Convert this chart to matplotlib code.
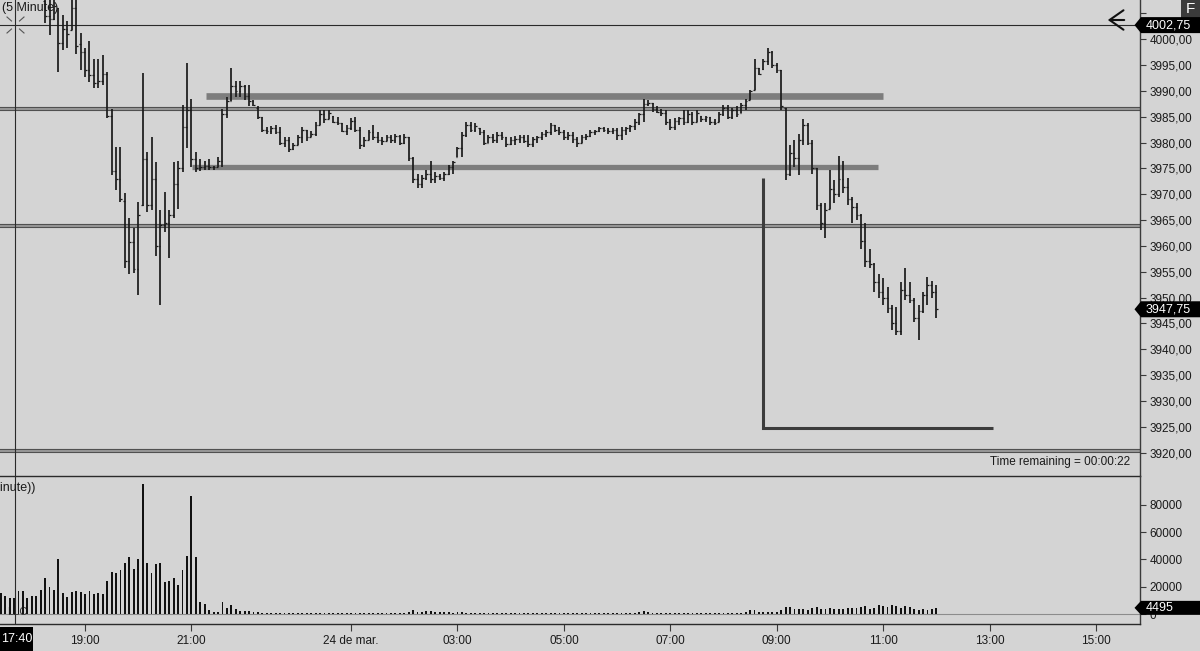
import numpy as np
import matplotlib
matplotlib.use('Agg')
import matplotlib.pyplot as plt
from matplotlib.patches import Polygon, Rectangle, FancyArrowPatch
from matplotlib.lines import Line2D
from matplotlib.transforms import IdentityTransform, offset_copy

# ---------------- data ----------------
first_price_bar = 7
opens = [
    4007.50, 4004.50, 4004.00, 4006.00, 3999.25, 4002.00, 4001.75, 4006.00, 3999.00, 3997.50,
    3994.00, 3993.00, 3991.50, 3992.00, 3993.25, 3985.25, 3974.50, 3973.00, 3968.75, 3957.00,
    3960.75, 3955.50, 3968.00, 3976.75, 3968.00, 3973.00, 3960.00, 3964.00, 3964.50, 3966.00,
    3972.00, 3975.00, 3983.00, 3986.25, 3976.75, 3975.00, 3975.25, 3975.50, 3975.25, 3975.25,
    3976.50, 3985.50, 3988.00, 3991.00, 3990.00, 3991.00, 3989.00, 3988.00, 3986.75, 3985.00,
    3982.50, 3982.25, 3982.75, 3982.00, 3980.00, 3980.50, 3978.75, 3979.50, 3981.00, 3982.50,
    3981.00, 3981.75, 3983.50, 3985.50, 3984.50, 3985.25, 3984.00, 3983.75, 3982.25, 3982.75,
    3984.25, 3982.50, 3979.50, 3980.50, 3982.00, 3981.00, 3980.50, 3980.25, 3981.00, 3980.50,
    3981.25, 3980.00, 3981.00, 3977.00, 3973.00, 3972.00, 3973.25, 3974.00, 3973.00, 3973.50,
    3973.25, 3974.00, 3975.25, 3977.25, 3979.00, 3981.50, 3983.50, 3982.50, 3982.75, 3982.00,
    3980.00, 3981.00, 3980.50, 3981.50, 3981.00, 3979.75, 3980.50, 3980.75, 3981.00, 3980.25,
    3979.75, 3980.75, 3981.00, 3981.75, 3982.00, 3983.50, 3982.50, 3982.00, 3981.00, 3981.50,
    3980.75, 3980.00, 3981.00, 3981.25, 3982.00, 3982.25, 3982.75, 3982.50, 3982.25, 3982.50,
    3981.50, 3982.50, 3982.75, 3983.25, 3984.00, 3985.50, 3987.50, 3987.75, 3986.50, 3986.00,
    3985.75, 3984.00, 3983.00, 3984.25, 3984.75, 3984.00, 3985.50, 3984.00, 3985.25, 3984.50,
    3985.00, 3984.00, 3984.00, 3985.50, 3986.75, 3985.00, 3986.25, 3985.75, 3987.25, 3988.25,
    3990.25, 3994.50, 3994.25, 3995.75, 3997.50, 3995.00, 3994.00, 3986.75, 3974.00, 3978.00,
    3977.00, 3980.50, 3983.50, 3980.00, 3975.00, 3968.00, 3964.50, 3967.25, 3971.00, 3970.00,
    3973.00, 3971.50, 3969.00, 3967.50, 3966.00, 3961.00, 3957.00, 3956.50, 3953.00, 3951.00,
    3950.00, 3948.00, 3945.00, 3943.50, 3951.50, 3950.50, 3949.50, 3946.00, 3947.50, 3950.50,
    3952.50, 3951.00,
]
highs = [
    4009.00, 4008.50, 4009.00, 4006.00, 4004.75, 4003.50, 4008.00, 4008.00, 4001.25, 3998.25,
    3999.75, 3996.25, 3996.25, 3997.00, 3993.75, 3986.50, 3979.25, 3979.25, 3970.25, 3965.50,
    3963.50, 3968.50, 3993.50, 3978.25, 3981.00, 3976.25, 3967.00, 3970.50, 3967.00, 3976.25,
    3976.50, 3987.25, 3995.50, 3988.50, 3978.25, 3976.75, 3976.50, 3976.75, 3975.50, 3977.25,
    3986.50, 3988.75, 3994.50, 3992.00, 3992.00, 3991.25, 3991.25, 3988.25, 3987.00, 3985.00,
    3983.00, 3983.25, 3983.50, 3983.00, 3981.00, 3981.00, 3980.00, 3981.50, 3983.00, 3982.50,
    3982.25, 3984.00, 3986.25, 3986.25, 3986.25, 3985.25, 3985.00, 3983.75, 3983.50, 3984.75,
    3985.00, 3983.00, 3981.00, 3982.50, 3983.50, 3982.00, 3981.00, 3981.50, 3981.50, 3981.75,
    3981.50, 3981.75, 3981.00, 3977.25, 3974.00, 3973.75, 3974.75, 3976.50, 3974.25, 3974.00,
    3974.25, 3975.75, 3976.50, 3979.25, 3982.00, 3984.00, 3984.00, 3983.75, 3982.75, 3982.50,
    3981.50, 3981.75, 3982.00, 3982.00, 3981.00, 3981.00, 3981.25, 3981.50, 3981.50, 3981.50,
    3981.00, 3981.25, 3982.00, 3982.50, 3983.75, 3983.50, 3983.00, 3982.50, 3982.00, 3982.00,
    3981.00, 3981.50, 3981.75, 3982.50, 3982.50, 3983.00, 3983.00, 3982.75, 3982.75, 3982.75,
    3983.00, 3983.00, 3983.50, 3984.50, 3985.75, 3988.50, 3988.25, 3987.75, 3987.00, 3986.50,
    3986.25, 3984.50, 3984.75, 3985.00, 3986.25, 3986.25, 3986.00, 3986.25, 3985.25, 3985.25,
    3985.00, 3984.50, 3986.00, 3987.25, 3987.25, 3986.75, 3987.00, 3987.75, 3988.50, 3990.25,
    3996.25, 3994.50, 3996.25, 3998.25, 3997.75, 3995.50, 3994.00, 3986.75, 3979.50, 3980.50,
    3981.75, 3984.50, 3983.75, 3980.50, 3975.00, 3968.25, 3968.25, 3974.75, 3972.75, 3977.50,
    3976.50, 3973.25, 3969.50, 3968.25, 3966.25, 3964.50, 3959.50, 3956.75, 3954.50, 3953.75,
    3952.00, 3948.50, 3948.25, 3953.00, 3955.75, 3953.00, 3950.00, 3948.50, 3951.00, 3954.00,
    3953.25, 3952.50,
]
lows = [
    4003.25, 4000.75, 4003.75, 3993.75, 3998.00, 3998.25, 4001.75, 3997.25, 3994.00, 3992.75,
    3991.75, 3990.50, 3990.50, 3991.25, 3984.75, 3973.75, 3970.75, 3968.50, 3955.75, 3954.50,
    3954.75, 3950.50, 3967.75, 3966.50, 3967.00, 3958.00, 3948.50, 3962.75, 3957.75, 3965.50,
    3967.25, 3974.25, 3979.00, 3975.25, 3974.25, 3974.50, 3974.75, 3974.75, 3974.75, 3975.25,
    3975.25, 3984.75, 3988.00, 3988.75, 3988.75, 3988.25, 3987.00, 3987.00, 3984.50, 3982.00,
    3981.75, 3981.75, 3981.75, 3979.50, 3979.25, 3978.25, 3978.50, 3979.50, 3980.00, 3980.25,
    3981.00, 3981.25, 3983.50, 3983.75, 3984.50, 3983.75, 3983.50, 3982.00, 3981.50, 3982.50,
    3982.00, 3978.75, 3979.25, 3980.50, 3980.50, 3980.00, 3979.50, 3980.25, 3980.00, 3980.00,
    3979.50, 3979.75, 3976.50, 3972.25, 3971.25, 3971.25, 3972.75, 3972.25, 3972.25, 3972.75,
    3972.50, 3973.75, 3974.00, 3977.25, 3977.25, 3981.00, 3982.00, 3982.00, 3981.50, 3979.50,
    3980.00, 3980.00, 3980.00, 3980.50, 3979.25, 3979.50, 3979.50, 3980.00, 3980.00, 3979.25,
    3979.25, 3980.00, 3980.50, 3981.00, 3981.50, 3982.00, 3981.50, 3980.50, 3980.50, 3980.00,
    3979.25, 3980.00, 3980.50, 3981.00, 3981.50, 3982.00, 3982.00, 3981.75, 3981.75, 3980.50,
    3980.50, 3981.50, 3982.00, 3982.50, 3983.50, 3984.00, 3987.00, 3986.00, 3985.75, 3985.25,
    3983.50, 3982.50, 3982.50, 3983.50, 3983.50, 3983.75, 3983.50, 3984.00, 3984.00, 3984.00,
    3983.50, 3983.50, 3984.00, 3985.25, 3984.50, 3984.50, 3985.00, 3985.75, 3986.25, 3988.25,
    3990.25, 3993.00, 3994.00, 3995.00, 3994.50, 3993.50, 3986.25, 3972.75, 3973.50, 3975.25,
    3973.75, 3979.50, 3979.50, 3974.00, 3967.00, 3963.00, 3961.50, 3967.25, 3968.25, 3969.50,
    3970.25, 3968.00, 3964.50, 3965.00, 3959.50, 3956.00, 3955.75, 3951.00, 3950.00, 3948.50,
    3947.00, 3943.75, 3942.75, 3942.75, 3949.50, 3949.00, 3945.25, 3941.75, 3947.00, 3948.50,
    3950.00, 3946.00,
]
closes = [
    4004.50, 4004.00, 4006.50, 3999.25, 4002.00, 4001.00, 4006.00, 3998.75, 3997.50, 3994.00,
    3993.00, 3991.50, 3992.00, 3993.25, 3985.25, 3974.50, 3973.00, 3969.00, 3957.00, 3960.75,
    3955.50, 3966.00, 3976.75, 3968.00, 3973.00, 3960.00, 3964.00, 3964.50, 3966.00, 3972.00,
    3975.00, 3983.00, 3986.25, 3976.75, 3975.00, 3975.25, 3975.50, 3975.25, 3975.25, 3976.50,
    3985.50, 3988.00, 3991.00, 3990.00, 3991.00, 3989.00, 3988.00, 3987.25, 3985.00, 3982.50,
    3982.25, 3982.75, 3982.00, 3980.00, 3980.50, 3978.75, 3979.50, 3981.00, 3982.50, 3981.00,
    3981.75, 3983.50, 3985.50, 3984.50, 3985.75, 3984.00, 3983.75, 3982.25, 3982.75, 3984.25,
    3982.50, 3979.50, 3980.50, 3982.00, 3981.00, 3980.50, 3980.25, 3981.00, 3980.50, 3981.25,
    3980.00, 3981.00, 3977.00, 3973.00, 3972.00, 3973.25, 3974.00, 3973.00, 3973.50, 3973.25,
    3974.00, 3975.25, 3976.25, 3979.00, 3981.50, 3983.50, 3982.50, 3983.25, 3982.00, 3980.00,
    3981.00, 3980.50, 3981.50, 3981.00, 3979.75, 3980.50, 3980.75, 3981.00, 3980.25, 3979.75,
    3980.75, 3981.00, 3981.75, 3982.00, 3983.50, 3982.50, 3982.00, 3981.00, 3981.50, 3980.75,
    3980.00, 3981.00, 3981.25, 3982.00, 3982.25, 3982.75, 3982.50, 3982.25, 3982.50, 3981.50,
    3982.50, 3982.75, 3983.25, 3984.00, 3985.50, 3987.50, 3987.75, 3986.50, 3986.00, 3985.75,
    3984.00, 3983.00, 3984.25, 3984.75, 3984.00, 3985.50, 3984.00, 3985.75, 3984.50, 3985.00,
    3984.00, 3983.75, 3985.50, 3986.75, 3985.00, 3986.25, 3985.50, 3987.25, 3988.00, 3990.00,
    3994.50, 3993.25, 3995.75, 3997.50, 3995.00, 3994.00, 3987.00, 3974.00, 3978.00, 3977.00,
    3980.50, 3983.50, 3980.00, 3975.00, 3968.00, 3964.50, 3967.00, 3971.00, 3970.00, 3973.00,
    3971.50, 3969.00, 3967.50, 3966.00, 3961.00, 3957.00, 3956.50, 3953.00, 3951.00, 3950.00,
    3948.00, 3945.00, 3943.50, 3951.50, 3950.50, 3949.50, 3946.00, 3947.50, 3950.50, 3952.50,
    3951.00, 3947.75,
]

first_volume_bar = -3
volumes = [
    15200, 13200, 12000, 12000, 17000, 17000, 12000, 13200, 13200, 17600,
    26600, 19600, 17600, 40300, 15200, 12700, 16300, 17000, 15900, 14600,
    17000, 14600, 15200, 14600, 24200, 30800, 29800, 32200, 37100, 42000,
    33000, 40300, 95200, 37600, 29800, 36600, 37100, 23400, 24200, 26600,
    21000, 32200, 42500, 86700, 42000, 8600, 7300, 2900, 1700, 1700,
    8600, 4200, 6600, 3700, 2200, 2200, 2200,
    1500, 1100, 900, 800, 700, 900, 800, 700, 600, 700,
    800, 700, 600, 700, 800, 900, 700, 600, 700, 600,
    700, 600, 700, 800, 900, 700, 600, 700, 600, 500,
    600, 500, 600, 700, 600, 1200, 2600, 1500, 1300, 1900,
    2200, 1500, 1100, 1600, 1300, 1000, 1300, 1200, 1000, 900,
    800, 900, 700, 800, 700, 600, 700, 800, 600, 700,
    600, 500, 600, 700, 600, 500, 600, 700, 600, 500,
    600, 500, 400, 600, 500, 600, 700, 500, 600, 500,
    600, 700, 600, 800, 700, 900, 1000, 1300, 2300, 1200,
    900, 800, 700, 900, 800, 700, 600, 800, 700, 600,
    700, 800, 700, 600, 700, 800, 900, 800, 700, 900,
    1000, 1300, 2600, 2800, 1500, 1400, 1800, 1500, 1600, 3200,
    5200, 4800, 3900, 3500, 3400, 3200, 4200, 5300, 3500, 3700,
    4500, 3800, 3300, 3500, 4400, 4200, 4600, 5200, 5800, 3800,
    4400, 6400, 5600, 4800, 6600, 5500, 4500, 5700, 5000, 3300,
    2800, 3700, 3000, 3400, 4495,
]

tick_bars = [16, 40, 76, 100, 124, 148, 172, 196, 220, 244]
tick_labels = ['19:00', '21:00', '24 de mar.', '03:00', '05:00', '07:00',
               '09:00', '11:00', '13:00', '15:00']
price_ticks = [3920, 3925, 3930, 3935, 3940, 3945, 3950, 3955, 3960, 3965,
               3970, 3975, 3980, 3985, 3990, 3995, 4000, 4005]
volume_ticks = [0, 20000, 40000, 60000, 80000]

last_price = 3947.75
last_volume = 4495
cursor_bar = 0.3
cursor_price = 4002.75
cursor_time = '17:40'
double_levels = [3986.7, 3964.05, 3920.5]
# drawn horizontal levels: (start bar, end bar, price)
resistance = (43.3, 196.0, 3989.0)
support = (40.1, 194.8, 3975.2)
# measured-move L: vertical at bar from price top to bottom, then right to end bar
measure_bar, measure_top, measure_bottom, measure_end = 169.0, 3973.1, 3924.8, 220.8

# ---------------- layout ----------------
W, H, DPI = 1200, 651, 100
BG = '#d4d4d4'
INK = '#1a1a1a'
FS = 8.5
plt.rcParams['font.family'] = ['Liberation Sans', 'DejaVu Sans']

fig = plt.figure(figsize=(W / DPI, H / DPI), dpi=DPI, facecolor=BG)


def fig_rect(left, top, right, bottom):
    return [left / W, 1 - bottom / H, (right - left) / W, (bottom - top) / H]


ax_p = fig.add_axes(fig_rect(0, 0, 1140, 476))
ax_v = fig.add_axes(fig_rect(0, 476, 1140, 624), sharex=ax_p)

bar_px, bar0_px = 4.434, 14.06
xlim = (-bar0_px / bar_px, (1140 - bar0_px) / bar_px)

for ax in (ax_p, ax_v):
    ax.set_facecolor('none')
    ax.set_xlim(*xlim)
    for s in ('top', 'left'):
        ax.spines[s].set_visible(False)
    ax.spines['right'].set_color('#3a3a3a')
    ax.spines['bottom'].set_color('#2a2a2a')
    ax.spines['right'].set_linewidth(1.0)
    ax.spines['bottom'].set_linewidth(1.0)
    ax.yaxis.tick_right()
    ax.tick_params(axis='y', direction='out', length=4, width=0.8, color='#3a3a3a',
                   labelsize=FS, labelcolor=INK, pad=3)

ax_p.set_ylim(3915.48, 4007.61)
ax_v.set_ylim(-7326, 101100)

ax_p.set_yticks(price_ticks)
ax_p.set_yticklabels(['' if t == 4005 else f'{t:.2f}'.replace('.', ',') for t in price_ticks])
ax_v.set_yticks(volume_ticks)
ax_v.set_yticklabels([str(v) for v in volume_ticks])

ax_p.tick_params(axis='x', bottom=False, labelbottom=False)
ax_v.set_xticks(tick_bars)
ax_v.set_xticklabels(tick_labels)
ax_v.tick_params(axis='x', direction='out', length=5, width=0.8, color='#3a3a3a',
                 labelsize=FS, labelcolor=INK, pad=3)

# ---------------- price panel ----------------
idx = np.arange(len(opens)) + first_price_bar
ax_p.vlines(idx, lows, highs, color=INK, lw=1.25, zorder=4)
ax_p.hlines(opens, idx - 0.38, idx, color=INK, lw=0.9, zorder=4)
ax_p.hlines(closes, idx, idx + 0.38, color=INK, lw=0.9, zorder=4)

for lvl in double_levels:
    ax_p.axhline(lvl, color='#9a9a9a', lw=2.2, zorder=1)
    for dy in (-1.5, 1.5):
        tr = offset_copy(ax_p.transData, fig=fig, y=dy, units='dots')
        ax_p.plot(xlim, [lvl, lvl], color='#505050', lw=0.8, transform=tr, zorder=1.5)

for (x0, x1, p), lw in ((resistance, 4.8), (support, 3.8)):
    ax_p.plot([x0, x1], [p, p], color='#7d7d7d', lw=lw, solid_capstyle='butt', zorder=3)

ax_p.plot([measure_bar, measure_bar, measure_end],
          [measure_top, measure_bottom, measure_bottom],
          color='#3c3c3c', lw=2.2, solid_capstyle='butt', solid_joinstyle='miter', zorder=3)

# crosshair
ax_p.axhline(cursor_price, color='#2a2a2a', lw=0.8, zorder=2)
ax_p.axvline(cursor_bar, color='#2a2a2a', lw=0.8, zorder=2)
ax_v.axvline(cursor_bar, color='#2a2a2a', lw=0.8, zorder=2)

# ---------------- volume panel ----------------
ID = IdentityTransform()
vidx = np.arange(len(volumes)) + first_volume_bar
ax_v.axhline(0, color='#8c8c8c', lw=0.8, zorder=1)
ax_v.bar(vidx, volumes, width=0.42, color='#111111', zorder=3)
ax_v.text(7, H - 615, 'LLC', transform=ID, fontsize=8, color='#333333',
          va='baseline', zorder=2)

# ---------------- overlays ----------------


def tag(ax, yval, text, h=16):
    yd = ax.transData.transform((0, yval))[1]
    poly = Polygon([(1134.5, yd), (1141, yd + h / 2), (W, yd + h / 2), (W, yd - h / 2),
                    (1141, yd - h / 2)], closed=True, fc='black', ec='none',
                   transform=ID, zorder=20)
    fig.add_artist(poly)
    fig.text(1146 / W, yd / H, text, color='white', fontsize=FS + 0.5, va='center',
             ha='left', zorder=21)


# "F" box
fig.add_artist(Rectangle((1181, H - 18), W - 1181, 18, fc='#3b3b3b', ec='none',
                         transform=ID, zorder=19))
fig.text(1190.5 / W, (H - 9) / H, 'F', color='white', fontsize=11, ha='center',
         va='center', zorder=21)

tag(ax_p, cursor_price, f'{cursor_price:.2f}'.replace('.', ','))
tag(ax_p, last_price, f'{last_price:.2f}'.replace('.', ','))
tag(ax_v, last_volume, str(last_volume), h=14)

# time tag bottom-left
fig.add_artist(Rectangle((0, 0), 33, 24, fc='black', ec='none', transform=ID, zorder=20))
fig.text(16.5 / W, 12 / H, cursor_time, color='white', fontsize=FS + 0.5, ha='center',
         va='center', zorder=21)

# back arrow
fig.add_artist(FancyArrowPatch((1127, H - 20), (1105, H - 20),
               arrowstyle='->,head_length=0.5,head_width=0.35', mutation_scale=20,
               lw=1.5, color='#111111', transform=ID, zorder=20))

# cursor icon
for (xa, ya, xb, yb) in ((7, 17, 11.5, 21), (24, 17, 19.5, 21),
                         (7, 33, 11.5, 29), (24, 33, 19.5, 29)):
    fig.add_artist(Line2D([xa, xb], [H - ya, H - yb], color='#555555', lw=0.8,
                          transform=ID, zorder=20))

fig.text(2 / W, (H - 8) / H, '(5 Minute)', fontsize=FS + 0.5, color=INK, ha='left',
         va='center', zorder=5)
fig.text(35 / W, (H - 488) / H, '(5 Minute))', fontsize=FS + 0.5, color=INK, ha='right',
         va='center', zorder=5)
fig.text(1130 / W, (H - 462) / H, 'Time remaining = 00:00:22', fontsize=FS, color=INK,
         ha='right', va='center', zorder=5)

fig.savefig('out.png', dpi=DPI, facecolor=BG)
